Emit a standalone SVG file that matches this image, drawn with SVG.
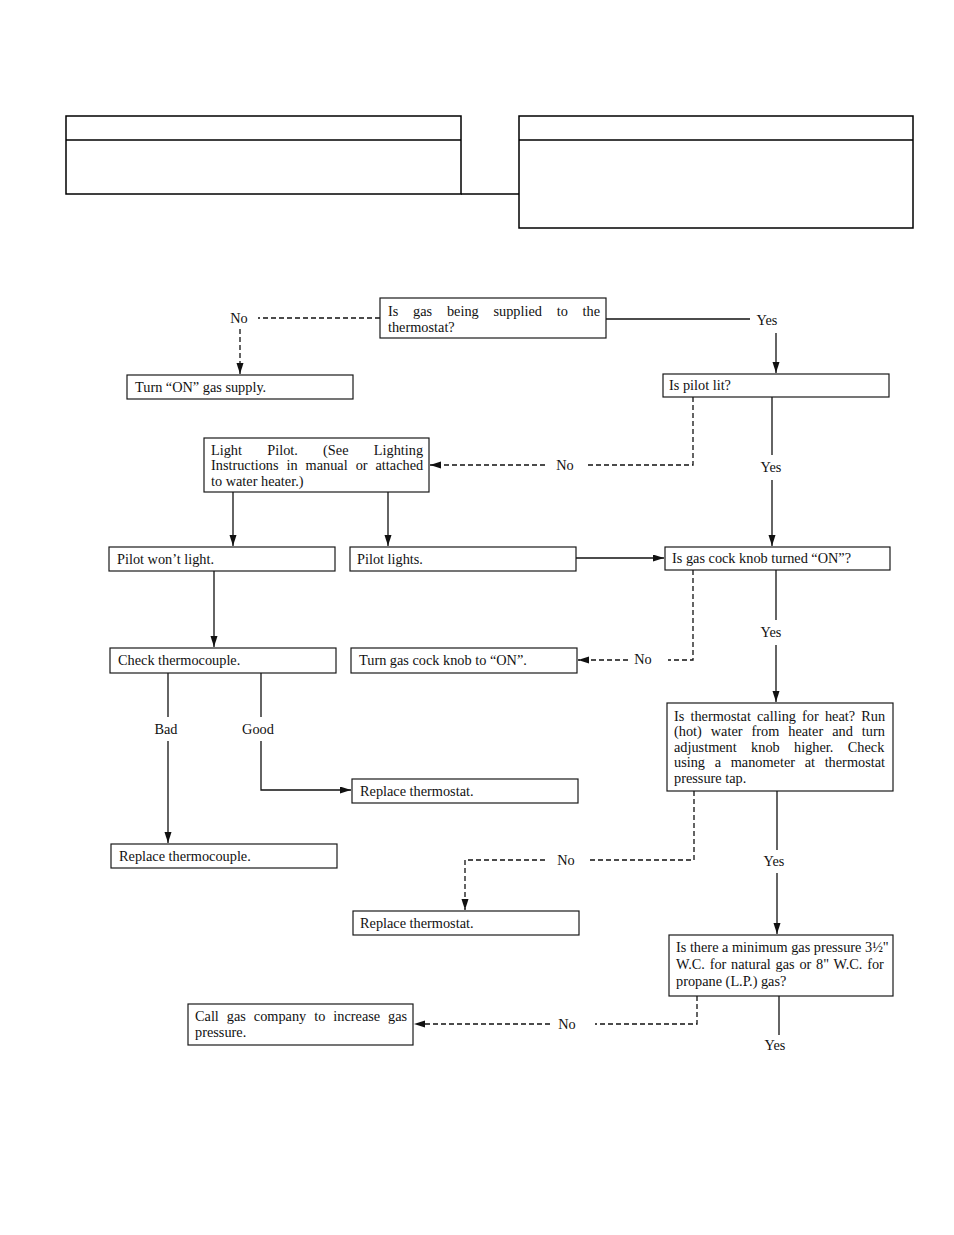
<svg xmlns="http://www.w3.org/2000/svg" width="954" height="1235" viewBox="0 0 954 1235">
<style>
.box{fill:#fff;stroke:#1a1a1a;stroke-width:1.2}
.frame{fill:none;stroke:#000;stroke-width:1.5}
.t{font-family:"Liberation Serif","Times New Roman",serif;font-size:14.3px;fill:#111}
.lbl{font-family:"Liberation Serif","Times New Roman",serif;font-size:14.3px;fill:#111;text-anchor:middle}
.sol{fill:none;stroke:#111;stroke-width:1.3}
.dsh{fill:none;stroke:#111;stroke-width:1.3;stroke-dasharray:5,3}
</style>
<defs>
<marker id="ah" markerUnits="userSpaceOnUse" markerWidth="12" markerHeight="8" refX="11" refY="3.5" orient="auto">
<path d="M0,0 L11,3.5 L0,7 z" fill="#111"/>
</marker>
</defs>
<rect width="954" height="1235" fill="#fff"/>

<g id="header-left">
<rect class="frame" x="66" y="116" width="395" height="78"/>
<line class="frame" x1="66" y1="140" x2="461" y2="140"/>
</g>
<g id="header-right">
<rect class="frame" x="519" y="116" width="394" height="112"/>
<line class="frame" x1="519" y1="140" x2="913" y2="140"/>
</g>
<g id="header-link">
<line class="frame" x1="461" y1="194" x2="519" y2="194"/>
</g>

<g id="connectors">
<path class="dsh" d="M380,318 H258"/>
<path class="dsh" d="M240,329 V374" marker-end="url(#ah)"/>
<path class="sol" d="M606,319 H750"/>
<path class="sol" d="M776,333 V373" marker-end="url(#ah)"/>
<path class="dsh" d="M693,397 V465 H587"/>
<path class="dsh" d="M545,465 H430" marker-end="url(#ah)"/>
<path class="sol" d="M772,397 V455"/>
<path class="sol" d="M772,480 V546" marker-end="url(#ah)"/>
<path class="sol" d="M233,492 V546" marker-end="url(#ah)"/>
<path class="sol" d="M388,492 V546" marker-end="url(#ah)"/>
<path class="sol" d="M576,558 H664" marker-end="url(#ah)"/>
<path class="sol" d="M214,571 V647" marker-end="url(#ah)"/>
<path class="dsh" d="M693,570 V660 H668"/>
<path class="dsh" d="M628,660 H578" marker-end="url(#ah)"/>
<path class="sol" d="M776,570 V620"/>
<path class="sol" d="M776,645 V702" marker-end="url(#ah)"/>
<path class="sol" d="M168,673 V717"/>
<path class="sol" d="M168,741 V843" marker-end="url(#ah)"/>
<path class="sol" d="M261,673 V717"/>
<path class="sol" d="M261,741 V790 H351" marker-end="url(#ah)"/>
<path class="dsh" d="M694,791 V860 H590"/>
<path class="dsh" d="M545,860 H465 V910" marker-end="url(#ah)"/>
<path class="sol" d="M777,791 V850"/>
<path class="sol" d="M777,873 V934" marker-end="url(#ah)"/>
<path class="dsh" d="M697,996 V1024 H595"/>
<path class="dsh" d="M550,1024 H414" marker-end="url(#ah)"/>
<path class="sol" d="M779,996 V1035"/>
</g>

<g id="labels">
<text class="lbl" x="239" y="323">No</text>
<text class="lbl" x="767" y="325">Yes</text>
<text class="lbl" x="565" y="470">No</text>
<text class="lbl" x="771" y="472">Yes</text>
<text class="lbl" x="643" y="664">No</text>
<text class="lbl" x="771" y="637">Yes</text>
<text class="lbl" x="166" y="734">Bad</text>
<text class="lbl" x="258" y="734">Good</text>
<text class="lbl" x="566" y="865">No</text>
<text class="lbl" x="774" y="866">Yes</text>
<text class="lbl" x="567" y="1029">No</text>
<text class="lbl" x="775" y="1050">Yes</text>
</g>

<g id="n-gas-supplied">
<rect class="box" x="380" y="298" width="226" height="40"/>
<text class="t" x="388" y="316" word-spacing="11.2">Is gas being supplied to the</text>
<text class="t" x="388" y="332">thermostat?</text>
</g>
<g id="n-turn-on-supply">
<rect class="box" x="127" y="375" width="226" height="24"/>
<text class="t" x="135" y="392">Turn “ON” gas supply.</text>
</g>
<g id="n-pilot-lit">
<rect class="box" x="663" y="374" width="226" height="23"/>
<text class="t" x="669" y="390">Is pilot lit?</text>
</g>
<g id="n-light-pilot">
<rect class="box" x="204" y="438" width="225" height="54"/>
<text class="t" x="211" y="455" word-spacing="21.7">Light Pilot. (See Lighting</text>
<text class="t" x="211" y="470" word-spacing="4.4">Instructions in manual or attached</text>
<text class="t" x="211" y="486">to water heater.)</text>
</g>
<g id="n-pilot-wont">
<rect class="box" x="109" y="547" width="226" height="24"/>
<text class="t" x="117" y="564">Pilot won’t light.</text>
</g>
<g id="n-pilot-lights">
<rect class="box" x="350" y="547" width="226" height="24"/>
<text class="t" x="357" y="564">Pilot lights.</text>
</g>
<g id="n-gas-cock">
<rect class="box" x="665" y="547" width="225" height="23"/>
<text class="t" x="672" y="563">Is gas cock knob turned “ON”?</text>
</g>
<g id="n-check-thermocouple">
<rect class="box" x="110" y="648" width="226" height="25"/>
<text class="t" x="118" y="665">Check thermocouple.</text>
</g>
<g id="n-turn-gas-cock">
<rect class="box" x="351" y="648" width="226" height="25"/>
<text class="t" x="359" y="665">Turn gas cock knob to “ON”.</text>
</g>
<g id="n-thermostat-calling">
<rect class="box" x="667" y="703" width="226" height="88"/>
<text class="t" x="674" y="721" word-spacing="2.6">Is thermostat calling for heat? Run</text>
<text class="t" x="674" y="736" word-spacing="5.4">(hot) water from heater and turn</text>
<text class="t" x="674" y="752" word-spacing="10.8">adjustment knob higher. Check</text>
<text class="t" x="674" y="767" word-spacing="6.1">using a manometer at thermostat</text>
<text class="t" x="674" y="783">pressure tap.</text>
</g>
<g id="n-replace-thermostat-1">
<rect class="box" x="352" y="779" width="226" height="24"/>
<text class="t" x="360" y="796">Replace thermostat.</text>
</g>
<g id="n-replace-thermocouple">
<rect class="box" x="111" y="844" width="226" height="24"/>
<text class="t" x="119" y="861">Replace thermocouple.</text>
</g>
<g id="n-replace-thermostat-2">
<rect class="box" x="353" y="911" width="226" height="24"/>
<text class="t" x="360" y="928">Replace thermostat.</text>
</g>
<g id="n-min-pressure">
<rect class="box" x="669" y="935" width="224" height="61"/>
<text class="t" x="676" y="952">Is there a minimum gas pressure 3½"</text>
<text class="t" x="676" y="969" word-spacing="1.2">W.C. for natural gas or 8" W.C. for</text>
<text class="t" x="676" y="986">propane (L.P.) gas?</text>
</g>
<g id="n-call-gas-company">
<rect class="box" x="188" y="1004" width="225" height="41"/>
<text class="t" x="195" y="1021" word-spacing="4.4">Call gas company to increase gas</text>
<text class="t" x="195" y="1037">pressure.</text>
</g>
</svg>
